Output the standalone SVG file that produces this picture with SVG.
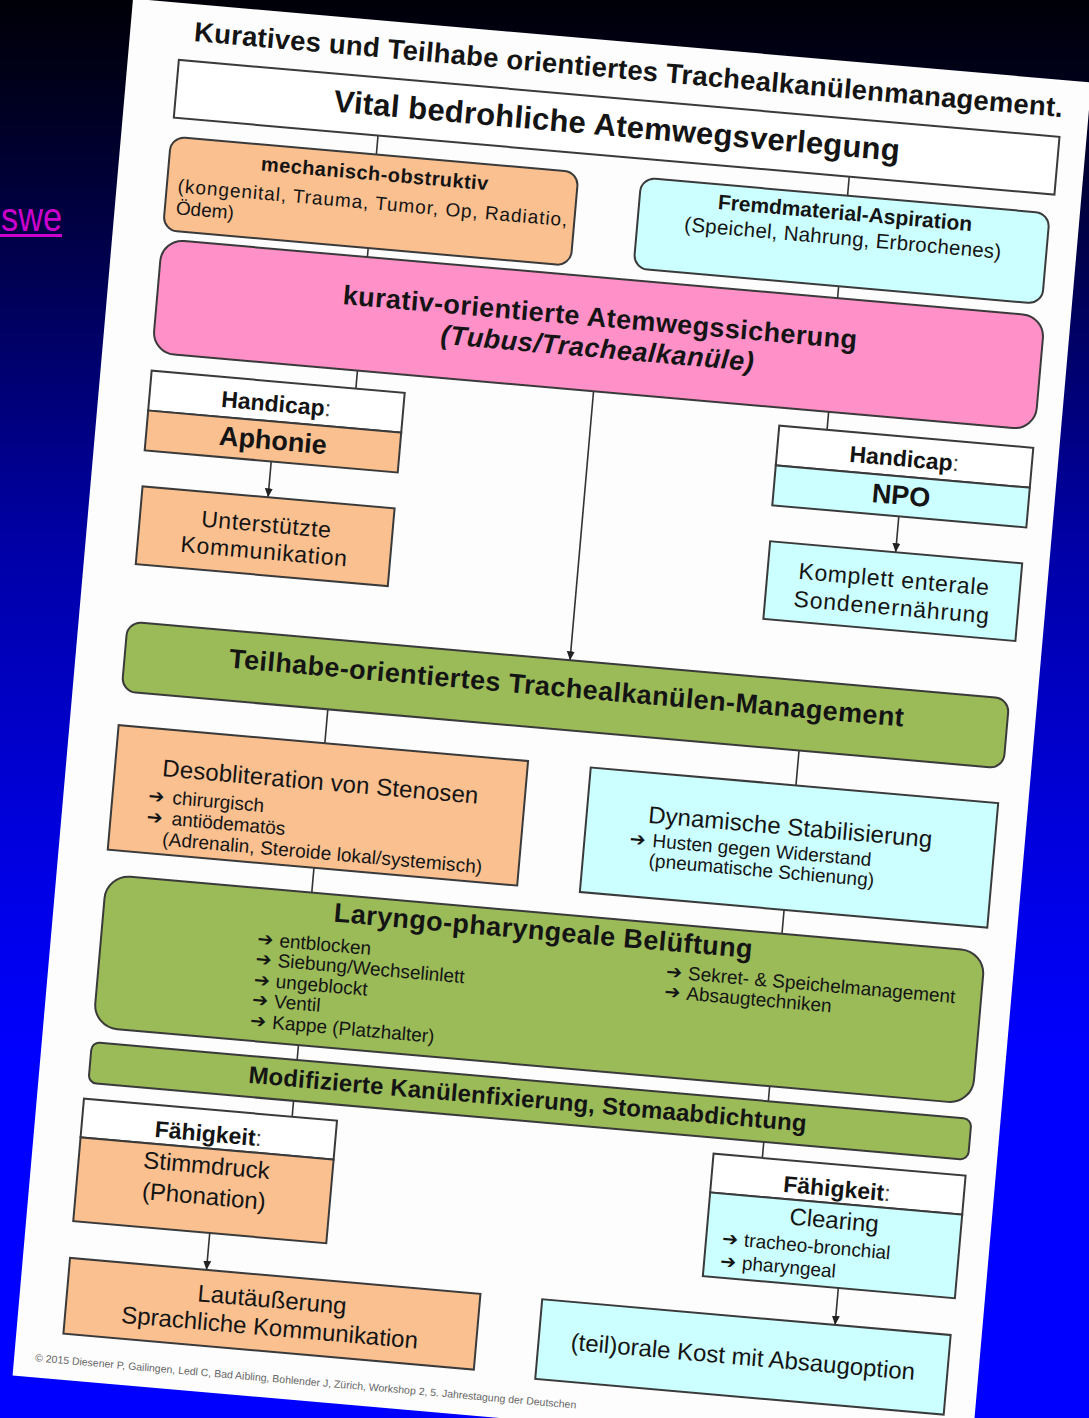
<svg xmlns="http://www.w3.org/2000/svg" width="1089" height="1418" viewBox="0 0 1089 1418">
<defs>
<linearGradient id="bg" x1="0" y1="0" x2="0" y2="1">
<stop offset="0" stop-color="#000008"/>
<stop offset="0.05" stop-color="#000018"/>
<stop offset="0.2" stop-color="#000055"/>
<stop offset="0.38" stop-color="#0000a5"/>
<stop offset="0.6" stop-color="#0000e0"/>
<stop offset="0.75" stop-color="#0000ff"/>
<stop offset="1" stop-color="#0000ff"/>
</linearGradient>
<marker id="ah" markerWidth="10" markerHeight="10" refX="9" refY="5" orient="auto" markerUnits="userSpaceOnUse">
<path d="M0,1 L9,5 L0,9 z" fill="#222"/>
</marker>
<style>
.box{stroke:#3a3a3a;stroke-width:2}
.or{fill:#fac090}
.cy{fill:#ccffff}
.pk{fill:#ff90c8}
.gr{fill:#9bbb59}
.wh{fill:#ffffff}
text{font-family:"Liberation Sans",Arial,sans-serif;fill:#141414}
.b{font-weight:bold}
.m{text-anchor:middle}
.arw{font-family:"DejaVu Sans",sans-serif;font-weight:bold}
.col{font-weight:normal;fill:#444}
.conn{stroke:#333;stroke-width:1.6;fill:none}
.s19{font-size:19px}
.s24{font-size:24px}
</style>
</defs>
<rect x="0" y="0" width="1089" height="1418" fill="url(#bg)"/>
<g id="link-fragment">
<text x="1" y="231" font-size="40" textLength="61" lengthAdjust="spacingAndGlyphs" style="fill:#cc00cc">swe</text>
<rect x="0" y="234" width="62" height="3" fill="#cc00cc"/>
</g>
<g id="page" transform="translate(137,-1) rotate(5)">
<rect x="-4" y="0" width="962" height="1382" fill="#fdfdfd"/>
<text id="title" class="b m" x="496" y="37" font-size="27.5" textLength="872">Kuratives und Teilhabe orientiertes Trachealkanülenmanagement.</text>

<g id="connectors">
<line class="conn" x1="252" y1="115" x2="252" y2="134"/>
<line class="conn" x1="725" y1="115" x2="725" y2="134"/>
<line class="conn" x1="252" y1="228" x2="252" y2="237"/>
<line class="conn" x1="724" y1="225" x2="724" y2="237"/>
<line class="conn" x1="252" y1="351" x2="252" y2="369"/>
<line class="conn" x1="725" y1="351" x2="725" y2="369"/>
<line class="conn" x1="489" y1="351" x2="489" y2="621" marker-end="url(#ah)"/>
<line class="conn" x1="174" y1="449" x2="174" y2="485" marker-end="url(#ah)"/>
<line class="conn" x1="804" y1="449" x2="804" y2="485" marker-end="url(#ah)"/>
<line class="conn" x1="252" y1="691" x2="252" y2="725"/>
<line class="conn" x1="725" y1="691" x2="725" y2="726"/>
<line class="conn" x1="252" y1="850" x2="252" y2="875"/>
<line class="conn" x1="724" y1="851" x2="724" y2="875"/>
<line class="conn" x1="252" y1="1028" x2="252" y2="1043"/>
<line class="conn" x1="725" y1="1028" x2="725" y2="1043"/>
<line class="conn" x1="252" y1="1084" x2="252" y2="1100"/>
<line class="conn" x1="724" y1="1084" x2="724" y2="1100"/>
<line class="conn" x1="180" y1="1223" x2="180" y2="1260" marker-end="url(#ah)"/>
<line class="conn" x1="811" y1="1223" x2="811" y2="1260" marker-end="url(#ah)"/>
</g>

<g id="n-vital">
<rect class="box wh" x="47" y="57" width="884" height="58"/>
<text class="b m" x="489" y="95" font-size="31" textLength="568">Vital bedrohliche Atemwegsverlegung</text>
</g>

<g id="n-mech">
<rect class="box or" x="46" y="134" width="409" height="94" rx="14"/>
<text class="b m" x="252" y="160" font-size="20" textLength="228">mechanisch-obstruktiv</text>
<text x="57" y="189" font-size="19" textLength="391">(kongenital, Trauma, Tumor, Op, Radiatio,</text>
<text x="57" y="211" font-size="19">Ödem)</text>
</g>

<g id="n-fremd">
<rect class="box cy" x="518" y="134" width="410" height="91" rx="14"/>
<text class="b m" x="724" y="158.5" font-size="21" textLength="255">Fremdmaterial-Aspiration</text>
<text class="m" x="724" y="183.5" font-size="20.5" textLength="318">(Speichel, Nahrung, Erbrochenes)</text>
</g>

<g id="n-kurativ">
<rect class="box pk" x="46" y="237" width="886" height="114" rx="22"/>
<text class="b m" x="489" y="286" font-size="27" textLength="516">kurativ-orientierte Atemwegssicherung</text>
<text class="b m" x="489" y="317" font-size="27" font-style="italic" textLength="314">(Tubus/Trachealkanüle)</text>
</g>

<g id="n-aphonie">
<rect class="box wh" x="47" y="369" width="254" height="40"/>
<rect class="box or" x="47" y="409" width="254" height="40"/>
<text class="b m" x="174" y="399" font-size="23">Handicap<tspan class="col">:</tspan></text>
<text class="b m" x="174" y="437" font-size="27">Aphonie</text>
</g>

<g id="n-npo">
<rect class="box wh" x="677" y="369" width="255" height="40"/>
<rect class="box cy" x="677" y="409" width="255" height="40"/>
<text class="b m" x="804.5" y="399" font-size="23">Handicap<tspan class="col">:</tspan></text>
<text class="b m" x="804.5" y="437" font-size="27">NPO</text>
</g>

<g id="n-kommunikation">
<rect class="box or" x="48" y="485" width="253" height="78"/>
<text class="m" font-size="23" x="174.5" y="520" textLength="130">Unterstützte</text>
<text class="m" font-size="23" x="174.5" y="547" textLength="167">Kommunikation</text>
</g>

<g id="n-sonde">
<rect class="box cy" x="678" y="485" width="253" height="78"/>
<text class="m" font-size="23" x="804.5" y="520" textLength="191">Komplett enterale</text>
<text class="m" font-size="23" x="804.5" y="548" textLength="196">Sondenernährung</text>
</g>

<g id="n-teilhabe">
<rect class="box gr" x="45" y="621" width="885" height="70" rx="14"/>
<text class="b m" x="488" y="658" font-size="27" textLength="677">Teilhabe-orientiertes Trachealkanülen-Management</text>
</g>

<g id="n-deso">
<rect class="box or" x="45" y="725" width="411" height="125"/>
<text class="m s24" x="251" y="772" textLength="317">Desobliteration von Stenosen</text>
<text class="s19" x="81" y="799"><tspan class="arw">➔</tspan><tspan x="105">chirurgisch</tspan></text>
<text class="s19" x="81" y="820"><tspan class="arw">➔</tspan><tspan x="106">antiödematös</tspan></text>
<text class="s19" x="98.5" y="841" textLength="321">(Adrenalin, Steroide lokal/systemisch)</text>
</g>

<g id="n-dyn">
<rect class="box cy" x="519" y="726" width="409" height="125"/>
<text class="m s24" x="723" y="776" textLength="285">Dynamische Stabilisierung</text>
<text class="s19" x="564" y="800"><tspan class="arw">➔</tspan><tspan x="587">Husten gegen Widerstand</tspan></text>
<text class="s19" x="585" y="820">(pneumatische Schienung)</text>
</g>

<g id="n-laryngo">
<rect class="box gr" x="46" y="875" width="882" height="153" rx="24"/>
<text class="b m" x="486" y="902" font-size="27" textLength="420">Laryngo-pharyngeale Belüftung</text>
<text class="s19" x="202" y="932"><tspan class="arw">➔</tspan><tspan x="224">entblocken</tspan></text>
<text class="s19" x="202" y="952"><tspan class="arw">➔</tspan><tspan x="224">Siebung/Wechselinlett</tspan></text>
<text class="s19" x="202" y="973"><tspan class="arw">➔</tspan><tspan x="224">ungeblockt</tspan></text>
<text class="s19" x="202" y="993"><tspan class="arw">➔</tspan><tspan x="224">Ventil</tspan></text>
<text class="s19" x="202" y="1014"><tspan class="arw">➔</tspan><tspan x="224">Kappe (Platzhalter)</tspan></text>
<text class="s19" x="612" y="929"><tspan class="arw">➔</tspan><tspan x="634">Sekret- &amp; Speichelmanagement</tspan></text>
<text class="s19" x="612" y="949"><tspan class="arw">➔</tspan><tspan x="634">Absaugtechniken</tspan></text>
</g>

<g id="n-fixierung">
<rect class="box gr" x="46" y="1043" width="883" height="41" rx="8"/>
<text class="b m" x="485" y="1070" font-size="24" textLength="560">Modifizierte Kanülenfixierung, Stomaabdichtung</text>
</g>

<g id="n-stimmdruck">
<rect class="box wh" x="43" y="1100" width="254" height="39"/>
<rect class="box or" x="43" y="1139" width="254" height="84"/>
<text class="b m" x="170" y="1132" font-size="23">Fähigkeit<tspan class="col">:</tspan></text>
<text class="m s24" x="171" y="1164">Stimmdruck</text>
<text class="m s24" x="171" y="1195">(Phonation)</text>
</g>

<g id="n-clearing">
<rect class="box wh" x="675" y="1100" width="253" height="39"/>
<rect class="box cy" x="675" y="1139" width="253" height="84"/>
<text class="b m" x="801" y="1132" font-size="23">Fähigkeit<tspan class="col">:</tspan></text>
<text class="m s24" x="801" y="1164">Clearing</text>
<text class="s19" x="691" y="1190"><tspan class="arw">➔</tspan><tspan x="713">tracheo-bronchial</tspan></text>
<text class="s19" x="691" y="1213"><tspan class="arw">➔</tspan><tspan x="713">pharyngeal</tspan></text>
</g>

<g id="n-laut">
<rect class="box or" x="43" y="1260" width="412" height="76"/>
<text class="m s24" x="248" y="1292">Lautäußerung</text>
<text class="m s24" x="248" y="1320">Sprachliche Kommunikation</text>
</g>

<g id="n-oral">
<rect class="box cy" x="517" y="1260" width="410" height="80"/>
<text class="m s24" x="722" y="1308">(teil)orale Kost mit Absaugoption</text>
</g>

<text id="footer" x="17" y="1366" font-size="10.5" style="fill:#666">© 2015 Diesener P, Gailingen, Ledl C, Bad Aibling, Bohlender J, Zürich, Workshop 2, 5. Jahrestagung der Deutschen</text>
</g>
</svg>
